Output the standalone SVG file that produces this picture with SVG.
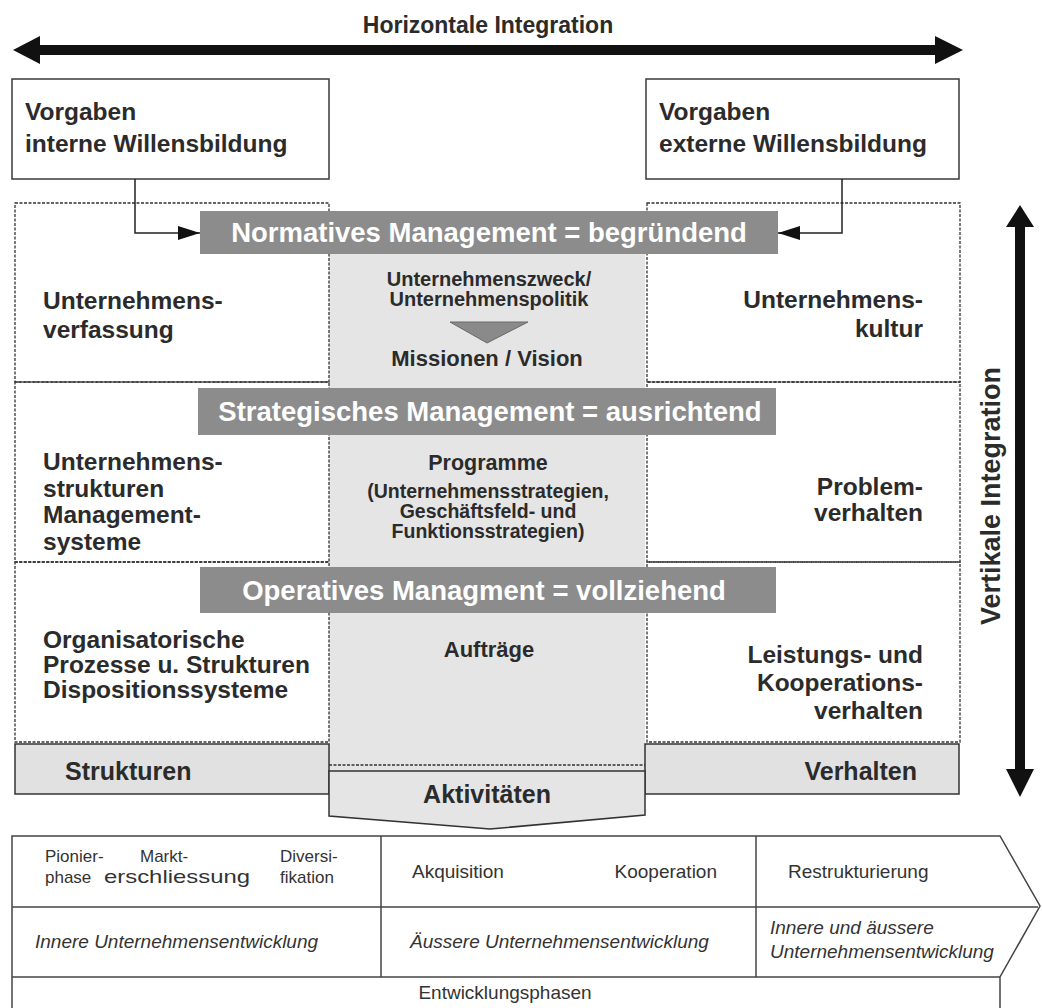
<svg xmlns="http://www.w3.org/2000/svg" width="1042" height="1008" viewBox="0 0 1042 1008">
  <style>
    .b { font-family: "Liberation Sans", Arial, sans-serif; font-weight: bold; fill: #2b2b2b; }
    .t24 { font-size: 24.5px; }
    .t20 { font-size: 20px; }
    .band { font-family: "Liberation Sans", Arial, sans-serif; font-weight: bold; font-size: 27.5px; fill: #ffffff; text-anchor: middle; }
    .bandbox { fill: #8c8c8c; }
    .frame { fill: #ffffff; stroke: #3a3a3a; stroke-width: 1.5; }
    .dot { fill: none; stroke: #333; stroke-width: 1.3; stroke-dasharray: 3 1.5; }
    .pale { fill: #e5e5e5; }
    .foot { fill: #e1e1e1; stroke: #333; stroke-width: 1.5; }
    .r { font-family: "Liberation Sans", Arial, sans-serif; font-size: 19px; fill: #333; }
    .s { font-size: 17px; }
    .i { font-style: italic; }
    .mid { text-anchor: middle; }
    .end { text-anchor: end; }
    .grid { fill: none; stroke: #444; stroke-width: 1.5; }
    .link { fill: none; stroke: #222; stroke-width: 1.5; }
  </style>
  <defs>
    <marker id="tip" viewBox="0 0 22 14" refX="22" refY="7" markerWidth="22" markerHeight="14" markerUnits="userSpaceOnUse" orient="auto">
      <path d="M0,0 L22,7 L0,14 Z" fill="#111"/>
    </marker>
  </defs>

  <rect width="1042" height="1008" fill="#ffffff"/>

  <!-- horizontal integration axis -->
  <g id="axis-horizontal">
    <line x1="38" y1="50" x2="938" y2="50" stroke="#111" stroke-width="10"/>
    <polygon points="13,50 40,36 40,64" fill="#111"/>
    <polygon points="963,50 935,36 935,64" fill="#111"/>
    <text class="b" x="488" y="33" font-size="23" text-anchor="middle">Horizontale Integration</text>
  </g>

  <!-- vertical integration axis -->
  <g id="axis-vertical">
    <line x1="1020" y1="222" x2="1020" y2="772" stroke="#111" stroke-width="10"/>
    <polygon points="1020,205 1006,227 1034,227" fill="#111"/>
    <polygon points="1020,797 1006,769 1034,769" fill="#111"/>
    <text class="b" font-size="27" text-anchor="middle" transform="translate(1000,496) rotate(-90)">Vertikale Integration</text>
  </g>

  <!-- input boxes -->
  <g id="vorgaben-intern">
    <rect class="frame" x="12" y="79" width="317" height="100"/>
    <text class="b t24" x="25" y="120">Vorgaben</text>
    <text class="b t24" x="25" y="152">interne Willensbildung</text>
  </g>
  <g id="vorgaben-extern">
    <rect class="frame" x="646" y="79" width="313" height="100"/>
    <text class="b t24" x="659" y="120">Vorgaben</text>
    <text class="b t24" x="659" y="152">externe Willensbildung</text>
  </g>

  <!-- central activity column -->
  <g id="kern">
    <rect class="pale" x="329" y="254" width="316" height="517"/>
    <line class="dot" x1="329" y1="765" x2="645" y2="765"/>
  </g>

  <!-- left column: structures -->
  <g id="links-normativ">
    <rect class="dot" x="15" y="203" width="314" height="179"/>
    <text class="b t24" x="43" y="309">Unternehmens-</text>
    <text class="b t24" x="43" y="338">verfassung</text>
  </g>
  <g id="links-strategisch">
    <rect class="dot" x="15" y="382" width="314" height="180"/>
    <text class="b t24" x="43" y="470">Unternehmens-</text>
    <text class="b t24" x="43" y="497">strukturen</text>
    <text class="b t24" x="43" y="523">Management-</text>
    <text class="b t24" x="43" y="550">systeme</text>
  </g>
  <g id="links-operativ">
    <rect class="dot" x="15" y="562" width="314" height="180"/>
    <text class="b t24" x="43" y="648">Organisatorische</text>
    <text class="b t24" x="43" y="673">Prozesse u. Strukturen</text>
    <text class="b t24" x="43" y="698">Dispositionssysteme</text>
  </g>

  <!-- right column: behaviour -->
  <g id="rechts-normativ">
    <rect class="dot" x="647" y="203" width="313" height="179"/>
    <text class="b t24 end" x="923" y="308">Unternehmens-</text>
    <text class="b t24 end" x="923" y="337">kultur</text>
  </g>
  <g id="rechts-strategisch">
    <rect class="dot" x="647" y="382" width="313" height="180"/>
    <text class="b t24 end" x="923" y="495">Problem-</text>
    <text class="b t24 end" x="923" y="521">verhalten</text>
  </g>
  <g id="rechts-operativ">
    <rect class="dot" x="647" y="562" width="313" height="180"/>
    <text class="b t24 end" x="923" y="663">Leistungs- und</text>
    <text class="b t24 end" x="923" y="691">Kooperations-</text>
    <text class="b t24 end" x="923" y="719">verhalten</text>
  </g>

  <!-- center texts -->
  <g id="zweck">
    <text class="b t20 mid" x="489" y="286">Unternehmenszweck/</text>
    <text class="b t20 mid" x="489" y="306">Unternehmenspolitik</text>
    <polygon points="450,322 528,322 487,343" fill="#8a8a8a" stroke="#6a6a6a" stroke-width="1"/>
    <text class="b mid" font-size="22" x="487" y="366">Missionen / Vision</text>
  </g>
  <g id="programme">
    <text class="b mid" font-size="21.5" x="488" y="470">Programme</text>
    <text class="b mid" font-size="19.5" x="488" y="498">(Unternehmensstrategien,</text>
    <text class="b mid" font-size="19.5" x="488" y="518">Geschäftsfeld- und</text>
    <text class="b mid" font-size="19.5" x="488" y="538">Funktionsstrategien)</text>
  </g>
  <g id="auftraege">
    <text class="b mid" font-size="22" x="489" y="657">Aufträge</text>
  </g>

  <!-- management bands -->
  <g id="normativ">
    <rect class="bandbox" x="200" y="211" width="578" height="43"/>
    <text class="band" x="489" y="242">Normatives Management = begründend</text>
  </g>
  <g id="strategisch">
    <rect class="bandbox" x="198" y="388" width="578" height="47"/>
    <text class="band" x="490" y="421">Strategisches Management = ausrichtend</text>
  </g>
  <g id="operativ">
    <rect class="bandbox" x="200" y="567" width="576" height="46"/>
    <text class="band" x="484" y="600">Operatives Managment = vollziehend</text>
  </g>

  <!-- footers -->
  <g id="strukturen">
    <rect class="foot" x="15" y="744" width="314" height="50"/>
    <text class="b" font-size="25" x="65" y="780">Strukturen</text>
  </g>
  <g id="verhalten">
    <rect class="foot" x="645" y="744" width="314" height="50"/>
    <text class="b end" font-size="25" x="917" y="780">Verhalten</text>
  </g>
  <g id="aktivitaeten">
    <path d="M329,771 H645 V815 L490,829 L329,816 Z" fill="#e5e5e5" stroke="#333" stroke-width="1.5"/>
    <text class="b mid" font-size="25" x="487" y="803">Aktivitäten</text>
  </g>

  <!-- connectors -->
  <g id="connectors">
    <path class="link" d="M135,179 V233 H200" marker-end="url(#tip)"/>
    <path class="link" d="M842,179 V233 H778" marker-end="url(#tip)"/>
  </g>

  <!-- development phases table -->
  <g id="phasen">
    <path class="grid" d="M12,1010 V836 H1000 L1040,906 L1000,977 V1010"/>
    <path class="grid" d="M12,907 H1038 M12,977 H1000 M381,836 V977 M756,836 V977"/>
    <text class="r s" x="45" y="862">Pionier-</text>
    <text class="r s" x="45" y="883">phase</text>
    <text class="r s" x="140" y="862">Markt-</text>
    <text class="r" x="104" y="883" font-size="17.5" textLength="146" lengthAdjust="spacingAndGlyphs">erschliessung</text>
    <text class="r s" x="280" y="862">Diversi-</text>
    <text class="r s" x="280" y="883">fikation</text>
    <text class="r" x="412" y="878">Akquisition</text>
    <text class="r end" x="717" y="878">Kooperation</text>
    <text class="r" x="788" y="878" font-size="20">Restrukturierung</text>
    <text class="r i" x="35" y="948" font-size="19.8">Innere Unternehmensentwicklung</text>
    <text class="r i" x="410" y="948" font-size="19.4">Äussere Unternehmensentwicklung</text>
    <text class="r i" x="770" y="934">Innere und äussere</text>
    <text class="r i" x="770" y="958">Unternehmensentwicklung</text>
    <text class="r mid" x="505" y="999">Entwicklungsphasen</text>
  </g>
</svg>
